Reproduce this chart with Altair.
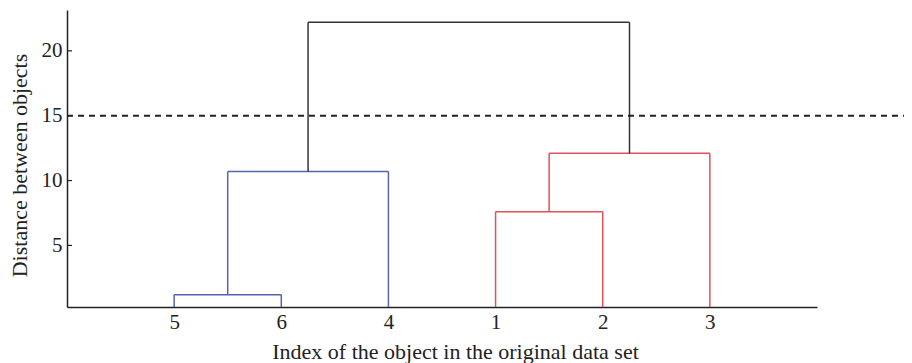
import json
import altair as alt
import pandas as pd

# ---- data ----
leaf_labels = ["5", "6", "4", "1", "2", "3"]
leaf_pos = [1, 2, 3, 4, 5, 6]

merge_left_x = [1, 4, 1.5, 4.5, 2.25]
merge_right_x = [2, 5, 3, 6, 5.25]
merge_left_h = [0, 0, 1.2, 7.6, 10.7]
merge_right_h = [0, 0, 0, 0, 12.1]
merge_h = [1.2, 7.6, 10.7, 12.1, 22.2]
merge_group = ["blue", "red", "blue", "red", "top"]

cut_height = 15
cut_x_start = 0
cut_x_end = 7.82

y_ticks = [5, 10, 15, 20]
x_domain = [0, 7]
y_domain = [0.25, 23.15]

# ---- build segments ----
rows = []
for xl, xr, hl, hr, h, g in zip(merge_left_x, merge_right_x, merge_left_h,
                                merge_right_h, merge_h, merge_group):
    rows.append(dict(x=xl, x2=xl, y=hl, y2=h, g=g))
    rows.append(dict(x=xl, x2=xr, y=h, y2=h, g=g))
    rows.append(dict(x=xr, x2=xr, y=hr, y2=h, g=g))
seg = pd.DataFrame(rows)

FONT = "Liberation Serif"
label_map = json.dumps([""] + leaf_labels + [""])

xscale = alt.Scale(domain=x_domain, nice=False, zero=False)
yscale = alt.Scale(domain=y_domain, nice=False, zero=False)

xaxis = alt.Axis(values=leaf_pos, labelExpr=f"{label_map}[datum.value]",
                 title="Index of the object in the original data set",
                 ticks=False, grid=False, domainColor="#222", domainWidth=1.5,
                 labelFont=FONT, labelFontSize=21, labelColor="#222", labelPadding=4,
                 titleFont=FONT, titleFontSize=22, titleFontWeight="normal",
                 titleColor="#222", titleX=388, titleY=44, titleBaseline="middle",
                 titleAlign="center")
yaxis = alt.Axis(values=y_ticks, title="Distance between objects",
                 ticks=False, grid=False, domainColor="#222", domainWidth=1.5,
                 labelFont=FONT, labelFontSize=21, labelColor="#222", labelPadding=5,
                 titleFont=FONT, titleFontSize=22, titleFontWeight="normal",
                 titleColor="#222", titleX=-48, titleY=155, titleBaseline="middle",
                 titleAlign="center", titleAngle=270)

dendro = alt.Chart(seg).mark_rule(strokeWidth=1.5, clip=True).encode(
    x=alt.X("x:Q", scale=xscale, axis=xaxis),
    x2="x2:Q",
    y=alt.Y("y:Q", scale=yscale, axis=yaxis),
    y2="y2:Q",
    color=alt.Color("g:N", scale=alt.Scale(domain=["blue", "red", "top"],
                                           range=["#5563b0", "#e05257", "#333333"]),
                    legend=None),
)

cut = alt.Chart(pd.DataFrame({"x": [cut_x_start], "x2": [cut_x_end], "y": [cut_height]})).mark_rule(
    strokeWidth=2, strokeDash=[6, 5], color="#222", clip=False
).encode(x=alt.X("x:Q", scale=xscale), x2="x2:Q", y=alt.Y("y:Q", scale=yscale))

ticks = alt.Chart(pd.DataFrame({"y": y_ticks})).mark_rule(
    strokeWidth=1.2, color="#222"
).encode(y=alt.Y("y:Q", scale=yscale), x=alt.value(0), x2=alt.value(5))

chart = alt.layer(dendro, cut, ticks).properties(
    width=750, height=297,
    background="white",
    autosize=alt.AutoSizeParams(type="none"),
    padding={"left": 59, "top": 2, "right": 87, "bottom": 56},
).configure_view(strokeWidth=0)

chart.save("out.html", embed_options={"renderer": "svg", "actions": False})
